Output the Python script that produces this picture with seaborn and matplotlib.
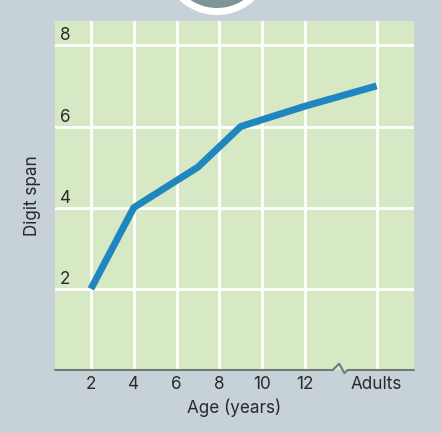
import matplotlib
matplotlib.use("Agg")
import matplotlib.pyplot as plt
import matplotlib.transforms as mtransforms
from matplotlib.patches import Circle
import seaborn as sns
import pandas as pd

# Digit span by age
age_pos = [2, 4, 7, 9, 12, 15.35]
digit_span = [2, 4, 5, 6, 6.5, 7]
xtick_pos = [2, 4, 6, 8, 10, 12, 15.35]
xtick_labels = ["2", "4", "6", "8", "10", "12", "Adults"]
ytick_vals = [2, 4, 6, 8]

BG = "#C6D1D8"
PANEL = "#D6E8C4"
LINE = "#1F86BF"
TEXT = "#2A2A2A"
AXIS = "#6E7C7C"
FS = 12.3

sns.set_theme(style="white")
plt.rcParams["font.family"] = ["Inter", "DejaVu Sans"]

df = pd.DataFrame({"age": age_pos, "span": digit_span})

fig = plt.figure(figsize=(4.41, 4.33), dpi=100, facecolor=BG)
ax = fig.add_axes([55 / 441, 63 / 433, 359 / 441, 349 / 433])
ax.set_facecolor(PANEL)

sns.lineplot(data=df, x="age", y="span", ax=ax, color=LINE, linewidth=5,
             solid_capstyle="butt", zorder=3)

ax.set_xlim(0.32, 17.1)
ax.set_ylim(0, 8.6)

# grid
for x in xtick_pos:
    ax.axvline(x, color="white", linewidth=2, zorder=1)
for y in ytick_vals:
    ax.axhline(y, color="white", linewidth=2, zorder=1)

ax.set_xticks(xtick_pos)
ax.set_xticklabels(xtick_labels)
ax.set_yticks([])
ax.tick_params(axis="x", length=0, pad=4.5, labelsize=FS, labelcolor=TEXT)

# y labels sit inside the panel above each grid line
for y in ytick_vals:
    ax.annotate(str(y), xy=(0.014, y), xycoords=("axes fraction", "data"),
                xytext=(0, 3.6), textcoords="offset points",
                ha="left", va="baseline", fontsize=FS, color=TEXT)

ax.set_xlabel("Age (years)", fontsize=FS, color=TEXT, labelpad=4)
ax.set_ylabel("Digit span", fontsize=FS, color=TEXT, labelpad=10)

for s in ax.spines.values():
    s.set_visible(False)

# bottom axis with a break mark
trans = mtransforms.blended_transform_factory(ax.transData, ax.transAxes)
bx = [0.32, 13.3, 13.6, 13.85, 14.0, 17.1]
by = [0, 0, 0.018, -0.009, 0, 0]
ax.plot(bx, by, color=AXIS, linewidth=1.5, transform=trans, clip_on=False,
        zorder=4)

# decorative ring at the top
fig.patches.append(Circle((2.17, 4.73), 0.55, transform=fig.dpi_scale_trans,
                          facecolor="white", edgecolor="none"))
fig.patches.append(Circle((2.17, 4.73), 0.48, transform=fig.dpi_scale_trans,
                          facecolor="#7D9597", edgecolor="none"))

fig.savefig("out.png", dpi=100, facecolor=BG)
